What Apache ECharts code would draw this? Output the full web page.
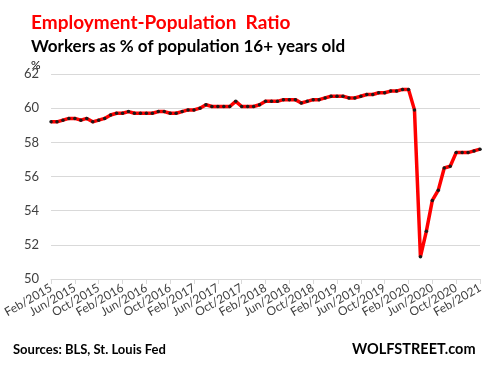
<!DOCTYPE html>
<html>
<head>
<meta charset="utf-8">
<script src="https://cdn.jsdelivr.net/npm/echarts@6/dist/echarts.min.js"></script>
<style>html,body{margin:0;padding:0;background:#fff;}#c{width:489px;height:366px;}</style>
</head>
<body>
<div id="c"></div>
<script>
const months = ['Jan','Feb','Mar','Apr','May','Jun','Jul','Aug','Sep','Oct','Nov','Dec'];
const categories = [];
for (let y = 2015; y <= 2021; y++) {
  for (let m = 0; m < 12; m++) {
    if (y === 2015 && m < 1) continue;
    if (y === 2021 && m > 1) continue;
    categories.push(months[m] + '/' + y);
  }
}
const ratio2015 = [59.2, 59.2, 59.3, 59.4, 59.4, 59.3, 59.4, 59.2, 59.3, 59.4, 59.6];
const ratio2016 = [59.7, 59.7, 59.8, 59.7, 59.7, 59.7, 59.7, 59.8, 59.8, 59.7, 59.7, 59.8];
const ratio2017 = [59.9, 59.9, 60.0, 60.2, 60.1, 60.1, 60.1, 60.1, 60.4, 60.1, 60.1, 60.1];
const ratio2018 = [60.2, 60.4, 60.4, 60.4, 60.5, 60.5, 60.5, 60.3, 60.4, 60.5, 60.5, 60.6];
const ratio2019 = [60.7, 60.7, 60.7, 60.6, 60.6, 60.7, 60.8, 60.8, 60.9, 60.9, 61.0, 61.0];
const ratio2020 = [61.1, 61.1, 59.9, 51.3, 52.8, 54.6, 55.2, 56.5, 56.6, 57.4, 57.4, 57.4];
const ratio2021 = [57.5, 57.6];
const values = [].concat(ratio2015, ratio2016, ratio2017, ratio2018, ratio2019, ratio2020, ratio2021);
const yTicks = [50, 52, 54, 56, 58, 60, 62];

const font = 'Lato';
const chart = echarts.init(document.getElementById('c'));
chart.setOption({
  animation: false,
  backgroundColor: '#fff',
  title: [
    {text: 'Employment-Population  Ratio', left: 26, top: 8,
     textStyle: {color: '#ff0000', fontSize: 19, fontWeight: 'bold', fontFamily: font}},
    {text: 'Workers as % of population 16+ years old', left: 26, top: 33,
     textStyle: {color: '#000', fontSize: 17, fontWeight: 'bold', fontFamily: font}},
    {text: '%', left: 26, top: 54,
     textStyle: {color: '#000', fontSize: 12, fontWeight: 'normal', fontFamily: font}},
    {text: 'Sources: BLS, St. Louis Fed', left: 8, top: 338,
     textStyle: {color: '#000', fontSize: 13, fontWeight: 'bold', fontFamily: font}},
    {text: 'WOLFSTREET.com', left: 347, top: 337,
     textStyle: {color: '#000', fontSize: 14.5, fontWeight: 'bold', fontFamily: font}}
  ],
  grid: {left: 47, right: 9, top: 74, bottom: 87, containLabel: false},
  xAxis: {
    type: 'category',
    data: categories,
    boundaryGap: false,
    axisLine: {lineStyle: {color: '#d9d9d9', width: 1}},
    axisTick: {show: true, interval: 3, length: 5, lineStyle: {color: '#d9d9d9'}},
    axisLabel: {interval: 3, rotate: 30, margin: 8, color: '#404040', fontSize: 12, fontFamily: font}
  },
  yAxis: {
    type: 'value',
    min: yTicks[0], max: yTicks[yTicks.length - 1], interval: 2,
    axisLine: {show: false},
    axisTick: {show: false},
    splitLine: {lineStyle: {color: '#d9d9d9', width: 1}},
    axisLabel: {margin: 12, color: '#404040', fontSize: 13, fontFamily: font}
  },
  series: [{
    type: 'line',
    data: values,
    symbol: 'circle',
    symbolSize: 3.5,
    showAllSymbol: true,
    lineStyle: {color: '#ff0000', width: 3.5},
    itemStyle: {color: '#1a1a1a', borderWidth: 0}
  }]
});
</script>
</body>
</html>
